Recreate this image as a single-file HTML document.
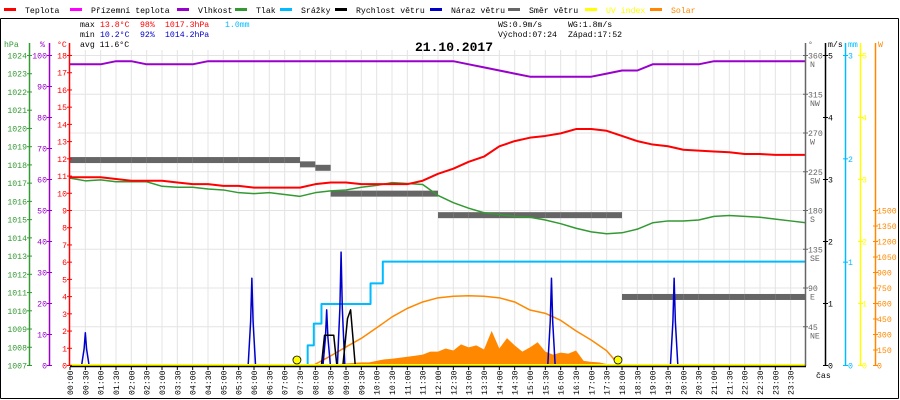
<!DOCTYPE html>
<html><head><meta charset="utf-8"><style>
html,body{margin:0;padding:0;background:#fff}
svg{display:block}
text{font-family:"Liberation Mono",monospace;font-size:8.2px}
</style></head><body>
<svg id="chart" width="900" height="400" viewBox="0 0 900 400" xmlns="http://www.w3.org/2000/svg">
<rect x="0" y="0" width="900" height="400" fill="#fff"/>
<g id="grid"></g>
<g id="legend"></g>
<line x1="0.5" y1="18.5" x2="898.5" y2="18.5" stroke="#000"/>
<line x1="0.5" y1="18.5" x2="0.5" y2="398.5" stroke="#000"/>
<line x1="898.5" y1="18.5" x2="898.5" y2="398.5" stroke="#000"/>
<line x1="0.5" y1="398.5" x2="898.5" y2="398.5" stroke="#000"/>
<g>
<text x="80" y="27"><tspan fill="#000">max </tspan><tspan fill="#f00" x="100">13.8°C</tspan><tspan fill="#f00" x="140">98%</tspan><tspan fill="#f00" x="165">1017.3hPa</tspan><tspan fill="#0bf" x="225">1.0mm</tspan></text>
<text x="80" y="37"><tspan fill="#000">min </tspan><tspan fill="#00c" x="100">10.2°C</tspan><tspan fill="#00c" x="140">92%</tspan><tspan fill="#00c" x="165">1014.2hPa</tspan></text>
<text x="80" y="47">avg 11.6°C</text>
<text x="498" y="27">WS:0.9m/s</text>
<text x="568" y="27">WG:1.8m/s</text>
<text x="498" y="37">Východ:07:24</text>
<text x="568" y="37">Západ:17:52</text>
</g>
<text x="415" y="51" font-weight="bold" style="font-size:13px">21.10.2017</text>
<g id="series"></g>
<g id="axes"></g>
</svg>
<script>
const halfHours = Array.from({length:49},(_,i)=>i*0.5);
const temperature = [10.9,10.9,10.9,10.8,10.7,10.7,10.7,10.6,10.5,10.5,10.4,10.4,10.3,10.3,10.3,10.3,10.5,10.6,10.6,10.5,10.5,10.5,10.5,10.7,11.1,11.4,11.8,12.1,12.7,13.0,13.2,13.3,13.45,13.7,13.7,13.6,13.3,13.0,12.8,12.7,12.5,12.45,12.4,12.35,12.25,12.25,12.2,12.2,12.2];
const humidity = [97,97,97,98,98,97,97,97,97,98,98,98,98,98,98,98,98,98,98,98,98,98,98,98,98,98,97,96,95,94,93,93,93,93,93,94,95,95,97,97,97,97,98,98,98,98,98,98,98];
const pressure = [1017.25,1017.1,1017.15,1017.05,1017.05,1017.05,1016.8,1016.75,1016.75,1016.65,1016.6,1016.45,1016.4,1016.45,1016.35,1016.25,1016.45,1016.55,1016.6,1016.75,1016.85,1017.0,1016.95,1016.9,1016.3,1015.9,1015.6,1015.35,1015.25,1015.15,1015.1,1014.95,1014.75,1014.5,1014.3,1014.2,1014.25,1014.45,1014.8,1014.9,1014.9,1014.95,1015.15,1015.2,1015.15,1015.1,1015.0,1014.9,1014.8];
const windDir = [238,238,238,238,238,238,238,238,238,238,238,238,238,238,238,233,229,199,199,199,199,199,199,199,174,174,174,174,174,174,174,174,174,174,174,174,79,79,79,79,79,79,79,79,79,79,79,79];
const rainTimes = [7.6,7.75,7.95,8.2,9.7,9.8,10.2,24];
const rainValues = [0,0.19,0.4,0.59,0.59,0.79,1.0,1.0];
const gustTimes = [0.5,5.93,8.37,8.84,15.7,19.7];
const gustValues = [0.52,1.4,0.89,1.82,1.4,1.4];
const windTimes = [8.2,8.3,8.6,8.7,8.9,9.05,9.15,9.3];
const windValues = [0,0.48,0.48,0,0,0.75,0.89,0];
const solarModelTimes = [7.95,8.5,9,9.5,10,10.5,11,11.5,12,12.5,13,13.5,14,14.5,15,15.5,16,16.5,17,17.5,17.9];
const solarModel = [0,88,175,258,360,465,548,610,650,665,670,665,650,610,532,500,432,330,241,138,0];
const solarMeasStart = 8.5;
const solarMeas = [0,10,15,20,25,25,40,55,60,70,80,90,100,130,130,160,140,200,170,190,150,330,160,260,190,130,170,220,130,100,120,110,140,40,30,25,10,5,0];
const sunEvents = [7.4,17.87];
const tempTicks = [0,1,2,3,4,5,6,7,8,9,10,11,12,13,14,15,16,17,18];
const humTicks = [0,10,20,30,40,50,60,70,80,90,100];
const presTicks = [1007,1008,1009,1010,1011,1012,1013,1014,1015,1016,1017,1018,1019,1020,1021,1022,1023,1024];
const dirTicks = [45,90,135,180,225,270,315,360];
const dirNames = ["NE","E","SE","S","SW","W","NW","N"];
const msTicks = [0,1,2,3,4,5];
const mmTicks = [0,1,2,3];
const uvTicks = [0,1,2,3,4,5];
const wTicks = [0,150,300,450,600,750,900,1050,1200,1350,1500];

const NS='http://www.w3.org/2000/svg';
const X0=70, X1=806, Y0=365, YT=55;
const x = t => X0 + t*(X1-X0)/24;
const yT = v => Y0 - v*(Y0-YT)/18;
const yH = v => Y0 - v*(Y0-YT)/100;
const yP = v => Y0 - (v-1007)*(Y0-YT)/17;
const yD = v => Y0 - v*(Y0-YT)/360;
const yMS = v => Y0 - v*(Y0-YT)/5;
const yMM = v => Y0 - v*(Y0-YT)/3;
const yW = v => Y0 - v*(Y0-YT)/3000;
function el(tag, attrs, parent){const e=document.createElementNS(NS,tag);for(const k in attrs)e.setAttribute(k,attrs[k]);parent.appendChild(e);return e;}
const grid=document.getElementById('grid'), series=document.getElementById('series'), axes=document.getElementById('axes'), legend=document.getElementById('legend');

for(let i=1;i<48;i++){const l=el('line',{x1:x(i*0.5),x2:x(i*0.5),y1:YT-5,y2:Y0,stroke:'#e4e4e4'},grid);

}
dirTicks.forEach(d=>{const l=el('line',{x1:X0,x2:X1,y1:yD(d)+0.5,y2:yD(d)+0.5,stroke:'#e4e4e4'},grid);

});

const legItems=[["Teplota","#f00",4],["Přízemní teplota","#f0f",70],["Vlhkost","#90c",177],["Tlak","#393",235],["Srážky","#0bf",280],["Rychlost větru","#000",335],["Náraz větru","#00c",430],["Směr větru","#666",508],["UV index","#ff0",585],["Solar","#f80",650]];
legItems.forEach(([n,c,lx])=>{
const r=el('rect',{x:lx,y:8,width:12,height:3,fill:c},legend);


const t=el('text',{x:lx+21,y:13,fill:(c=='#ff0'||c=='#f80')?c:'#000'},legend);t.textContent=n;

});

function poly(pts,color,w,name){const p=el('polyline',{points:pts.map(a=>a.join(',')).join(' '),fill:'none',stroke:color,'stroke-width':w,'stroke-linejoin':'round'},series);

return p;}
function step(times,vals,fy){const pts=[];times.forEach((t,i)=>{if(i>0)pts.push([x(t),fy(vals[i-1])]);pts.push([x(t),fy(vals[i])]);});return pts;}

{const pts=[[x(solarMeasStart),Y0]];solarMeas.forEach((v,i)=>pts.push([x(solarMeasStart+i*0.25),yW(v)]));pts.push([x(solarMeasStart+(solarMeas.length-1)*0.25),Y0]);
const p=el('polygon',{points:pts.map(a=>a.join(',')).join(' '),fill:'#f80'},series);

}
poly(solarModelTimes.map((t,i)=>[x(t),yW(solarModel[i])]),'#f80',1.5,'solar-theoretical-line');
windDir.forEach((d,i)=>{const r=el('rect',{x:x(halfHours[i]),y:yD(d)-3,width:(X1-X0)/48,height:6,fill:'#666'},series);

});
poly(halfHours.map((t,i)=>[x(t),yP(pressure[i])]),'#393',1.5,'pressure-line');
poly(halfHours.map((t,i)=>[x(t),yT(temperature[i])]),'#f00',2,'temperature-line');
poly(halfHours.map((t,i)=>[x(t),yH(humidity[i])]),'#90c',2,'humidity-line');
poly(step(rainTimes,rainValues,yMM),'#0bf',2,'rain-line');
gustTimes.forEach((t,i)=>{poly([[x(t-0.12),Y0],[x(t-0.04),yMS(gustValues[i]*0.5)],[x(t),yMS(gustValues[i])],[x(t+0.04),yMS(gustValues[i]*0.5)],[x(t+0.12),Y0]],'#00c',1.5,'gust-spike');});
poly(windTimes.map((t,i)=>[x(t),yMS(windValues[i])]),'#000',1.5,'wind-speed-line');
{const l=el('line',{x1:X0,x2:X1,y1:Y0,y2:Y0,stroke:'#ff0','stroke-width':2},series);

}
sunEvents.forEach(t=>{const c=el('circle',{cx:x(t),cy:Y0-5,r:4,fill:'#ff0',stroke:'#000','stroke-width':0.8},series);

});

function axis(lx,color,ticks,fy,labelX,anchor,name){
const l=el('line',{x1:lx+0.5,x2:lx+0.5,y1:YT-12,y2:Y0+1,stroke:color,'stroke-width':1.5},axes);


ticks.forEach(v=>{el('line',{x1:lx-2,x2:lx+3,y1:fy(v)+0.5,y2:fy(v)+0.5,stroke:color},axes);
const t=el('text',{x:labelX,y:fy(v)+3.5,fill:color,'text-anchor':anchor},axes);t.textContent=v;

});}
axis(29,'#393',presTicks,yP,27,'end','pressure-axis');
axis(49,'#90c',humTicks,yH,47,'end','humidity-axis');
axis(69,'#f00',tempTicks,yT,67,'end','temperature-axis');
axis(805,'#666',dirTicks,yD,808,'start','direction-axis');
dirTicks.forEach((d,i)=>{const t=el('text',{x:810,y:yD(d)+12,fill:'#666'},axes);t.textContent=dirNames[i];

});
axis(825,'#000',msTicks,yMS,828,'start','wind-speed-axis');
axis(845,'#0bf',mmTicks,yMM,848,'start','rain-axis');
axis(860,'#ff0',uvTicks,v=>Y0-v*(Y0-YT)/5,862,'start','uv-axis');
axis(875,'#f80',wTicks,yW,877,'start','solar-axis');
[["hPa",4,'#393'],["%",40,'#90c'],["°C",57,'#f00'],["°",808,'#666'],["m/s",828,'#000'],["mm",848,'#0bf'],["W",878,'#f80']].forEach(([s,hx,c])=>{
const t=el('text',{x:hx,y:47,fill:c},axes);t.textContent=s;

});
{const b=el('line',{x1:X0,x2:X1,y1:Y0+1.5,y2:Y0+1.5,stroke:'#000','stroke-width':1.5},axes);

}
halfHours.slice(0,48).forEach(t=>{const xx=x(t);
el('line',{x1:xx,x2:xx,y1:Y0+2,y2:Y0+5,stroke:'#000'},axes);
const h=Math.floor(t),m=t%1?'30':'00';
const tx=el('text',{x:0,y:0,transform:`translate(${xx+3},395) rotate(-90)`},axes);
tx.textContent=(h<10?'0':'')+h+':'+m;

});
{const t=el('text',{x:816,y:378},axes);t.textContent='čas';

}
</script>
</body></html>
